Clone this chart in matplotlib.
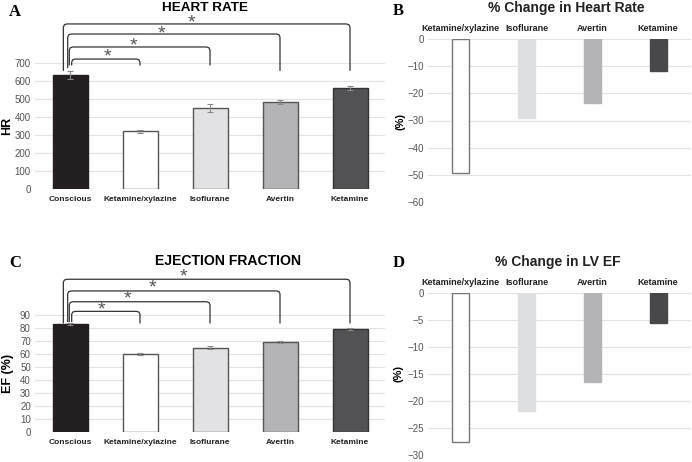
import matplotlib
matplotlib.use('Agg')
import matplotlib.pyplot as plt
import numpy as np

plt.rcParams['font.family'] = ['Liberation Sans', 'DejaVu Sans']

# --- DATA ---
groups = ['Conscious', 'Ketamine/xylazine', 'Isoflurane', 'Avertin', 'Ketamine']
hr_mean = [635, 320, 450, 485, 560]
hr_err = [22, 8, 20, 10, 12]
ef_mean = [83, 60, 65, 69, 79]
ef_err = [1.0, 0.7, 1.5, 0.7, 0.8]

drugs = ['Ketamine/xylazine', 'Isoflurane', 'Avertin', 'Ketamine']
hr_change = [-49.3, -29.2, -23.6, -11.8]
ef_change = [-27.5, -21.9, -16.4, -5.6]

# significance brackets: (target index, bracket top, left leg bottom, right leg bottom, star x, star y)
hr_sig = [(1, 722, 690, 690, 0.54, 735), (2, 789, 690, 690, 0.90, 797),
          (3, 861, 675, 660, 1.30, 863), (4, 917, 660, 660, 1.74, 924)]
ef_sig = [(1, 92.8, 85, 84, 0.45, 94.0), (2, 100.2, 85, 84, 0.82, 102.0),
          (3, 108.5, 85, 84, 1.18, 110.8), (4, 117.5, 84, 84, 1.62, 119.3)]
leg_offsets = [0.024, -0.01, -0.033, -0.095]

bar_colors = ['#231f20', '#ffffff', '#e2e2e4', '#b4b4b6', '#525254']
edge_colors = ['#231f20', '#555555', '#555555', '#555555', '#333333']
chg_colors = ['#ffffff', '#dedfe0', '#b4b4b6', '#48484a']
chg_edges = ['#777777', '#dedfe0', '#b4b4b6', '#48484a']

W, H = 692, 462
fig = plt.figure(figsize=(W / 100, H / 100), dpi=100)


def px_axes(x0, x1, y_top, y_bot):
    return fig.add_axes([x0 / W, 1 - y_bot / H, (x1 - x0) / W, (y_bot - y_top) / H])


def fig_text(x, y, s, **kw):
    fig.text(x / W, 1 - y / H, s, **kw)


def style(ax, xsize):
    for s in ax.spines.values():
        s.set_visible(False)
    ax.grid(axis='y', color='#e3e3e3', lw=0.8)
    ax.set_axisbelow(True)
    ax.tick_params(axis='y', length=0, labelsize=7, colors='#555555', pad=3)
    ax.tick_params(axis='x', length=0, labelsize=xsize, colors='#222222')


def bracket(ax, x0, x1, top, yl, yr):
    r = 0.05
    ry = (ax.get_ylim()[1] - ax.get_ylim()[0]) * 0.025
    xs = [x0, x0, x0 + r * 0.3, x0 + r, x1 - r, x1 - r * 0.3, x1, x1]
    ys = [yl, top - ry, top - ry * 0.25, top, top, top - ry * 0.25, top - ry, yr]
    ax.plot(xs, ys, color='#333333', lw=0.9, clip_on=False, solid_joinstyle='round')


def abs_panel(ax, means, errs, ylim, step, sig):
    x = np.arange(len(groups))
    ax.bar(x, means, width=0.5, color=bar_colors, edgecolor=edge_colors, lw=1, zorder=2)
    ax.errorbar(x, means, yerr=errs, fmt='none', ecolor='#8a8a8a', elinewidth=0.8,
                capsize=2.5, capthick=0.8, zorder=3)
    ax.set_xlim(-0.5, len(groups) - 0.5)
    ax.set_ylim(0, ylim)
    ax.set_yticks(np.arange(0, ylim + 1, step))
    ax.set_xticks(x)
    ax.set_xticklabels(groups, fontweight='bold')
    style(ax, 6.0)
    ax.tick_params(axis='x', pad=5)
    for (j, top, yl, yr, sx, sy), off in zip(sig, leg_offsets):
        bracket(ax, off, j, top, yl, yr)
        ax.text(sx, sy, '*', ha='center', va='center', fontsize=14, color='#555555',
                clip_on=False)


def chg_panel(ax, vals, ylim, step):
    x = np.arange(len(drugs))
    ax.bar(x, vals, width=0.26, color=chg_colors, edgecolor=chg_edges, lw=1, zorder=2)
    ax.set_xlim(-0.5, len(drugs) - 0.5)
    ax.set_ylim(ylim, 0)
    ax.set_yticks(np.arange(ylim, 1, step))
    ax.xaxis.tick_top()
    ax.set_xticks(x)
    ax.set_xticklabels(drugs, fontweight='bold')
    style(ax, 6.5)
    ax.tick_params(axis='x', pad=4)


# A
axA = px_axes(35, 385, 63, 189)
abs_panel(axA, hr_mean, hr_err, 700, 100, hr_sig)
fig_text(7, 126, 'HR', fontsize=9, fontweight='bold', rotation=90, ha='center', va='center')
fig_text(205, 8, 'HEART RATE', fontsize=9.7, fontweight='bold', ha='center', va='center')

# B
axB = px_axes(428, 691, 39, 202)
chg_panel(axB, hr_change, -60, 10)
fig_text(400, 121, '(%)', fontsize=8, fontweight='bold', rotation=90, ha='center', va='center')
fig_text(566, 8, '% Change in Heart Rate', fontsize=10, fontweight='bold', ha='center',
         va='center', color='#222222')

# C
axC = px_axes(35, 385, 315, 432)
abs_panel(axC, ef_mean, ef_err, 90, 10, ef_sig)
fig_text(8, 373, 'EF (%)', fontsize=9, fontweight='bold', rotation=90, ha='center', va='center')
fig_text(228, 261, 'EJECTION FRACTION', fontsize=10.1, fontweight='bold', ha='center', va='center')

# D
axD = px_axes(428, 691, 293, 455)
chg_panel(axD, ef_change, -30, 5)
fig_text(399, 374, '(%)', fontsize=8, fontweight='bold', rotation=90, ha='center', va='center')
fig_text(558, 262, '% Change in LV EF', fontsize=10, fontweight='bold', ha='center',
         va='center', color='#222222')

# panel letters
for lx, ly, lt in [(15, 12, 'A'), (398, 11, 'B'), (15, 263, 'C'), (399, 263, 'D')]:
    fig_text(lx, ly, lt, fontsize=12, fontweight='bold', family='Liberation Serif',
             ha='center', va='center')

fig.savefig('out.png', dpi=100)
